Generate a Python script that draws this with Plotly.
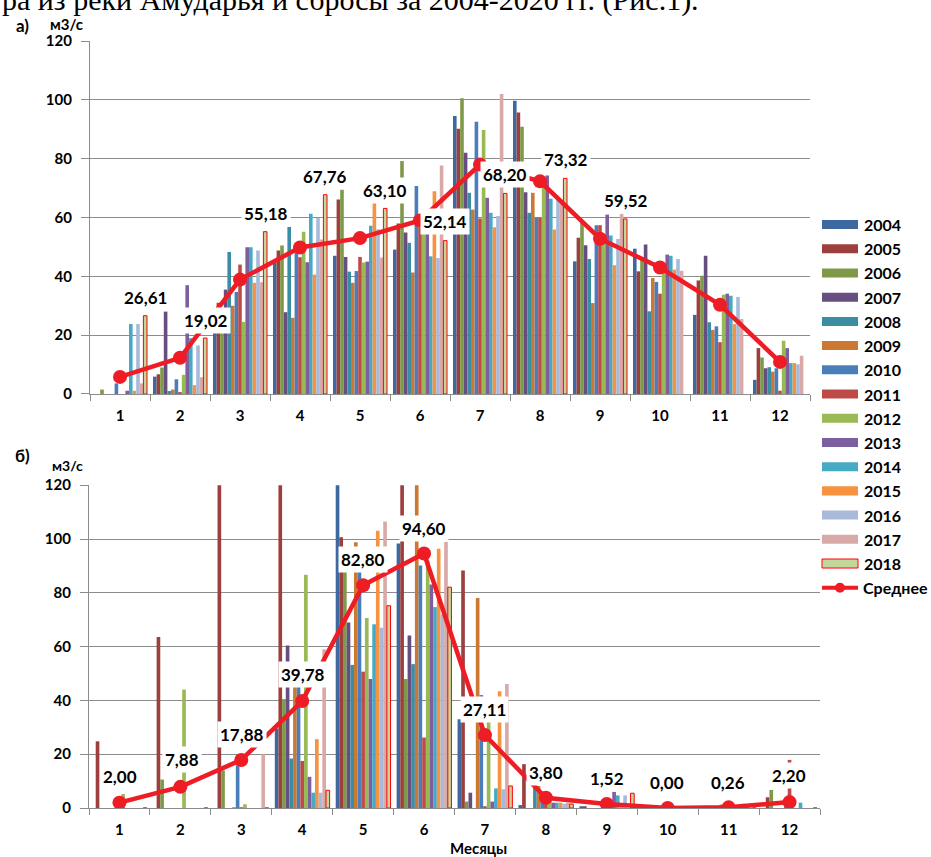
import plotly.graph_objects as go

W, H = 931, 857

MONTHS = ["1", "2", "3", "4", "5", "6", "7", "8", "9", "10", "11", "12"]
YEARS = ["2004", "2005", "2006", "2007", "2008", "2009", "2010", "2011",
         "2012", "2013", "2014", "2015", "2016", "2017", "2018"]

# ---- panel а) (top), m3/s ----
a2004 = [0, 5.9, 28, 44.6, 47, 49.1, 94.5, 99.7, 45.1, 49.4, 26.9, 4.8]
a2005 = [0, 6.7, 31, 48.8, 66.1, 58, 90.2, 95.7, 53.1, 41.7, 38.6, 15.6]
a2006 = [1.5, 9, 27, 50.5, 69.5, 79.2, 100.6, 90.9, 58.2, 46.3, 40.2, 12.4]
a2007 = [0, 28, 35.5, 27.8, 46.6, 54.9, 82, 68.6, 50.6, 50.8, 47, 8.75]
a2008 = [0, 1, 48.3, 56.8, 41.6, 51.4, 68.4, 61.6, 45.9, 28.1, 24.4, 9.1]
a2009 = [0, 1.5, 30, 25.9, 37.8, 41.3, 62.7, 68.4, 30.9, 39.4, 21.8, 7.6]
a2010 = [3.6, 5, 34.7, 48, 41.8, 70.7, 92.6, 59.9, 57.4, 38.1, 23, 8.75]
a2011 = [0, 0.5, 44, 46.5, 46.6, 56.7, 59.7, 59.9, 57.4, 34.1, 17.6, 1.1]
a2012 = [0, 6.5, 24.5, 55.2, 44.7, 56, 89.8, 72, 53.6, 42.3, 33.75, 18.1]
a2013 = [1.1, 37, 49.9, 44.8, 45, 55, 66.7, 74.3, 61, 47.4, 34.1, 15.6]
a2014 = [23.8, 19, 49.9, 61.3, 57.2, 46.8, 61.6, 66.4, 53.9, 47, 33.4, 10.5]
a2015 = [1.1, 3, 37.8, 40.6, 64.9, 68.9, 56.7, 55.9, 43.8, 42.3, 23.75, 10.5]
a2016 = [23.8, 16.5, 48.8, 59.9, 56, 46.2, 60.5, 67, 52.7, 45.9, 33, 10.1]
a2017 = [3.6, 5.7, 38, 52.5, 46.4, 77.7, 102, 65, 61.3, 41.9, 25.5, 13]
a2018 = [26.61, 19.02, 55.18, 67.76, 63.10, 52.14, 68.20, 73.32, 59.52, None, None, None]
a_avg = [5.8, 12.3, 38.9, 49.8, 53.0, 59.0, 78.0, 72.3, 52.8, 43.0, 30.3, 10.9]
a_labels = ["26,61", "19,02", "55,18", "67,76", "63,10", "52,14", "68,20", "73,32", "59,52"]

# ---- panel б) (bottom), m3/s ----
b2004 = [0, 0, 0, 29.6, 151.9, 98.3, 33, 1.1, 0.4, 0, 0, 0]
b2005 = [24.8, 63.6, 216.3, 139.4, 100.7, 225, 88.3, 16.3, 0.5, 0, 0, 4]
b2006 = [0, 10.6, 14, 40.5, 90, 48, 2.4, 0, 0, 0, 0, 6.7]
b2007 = [0, 0, 0, 60.4, 69, 64.1, 5.7, 0, 0, 0, 0, 0]
b2008 = [0, 0, 0, 18.4, 53.2, 53.5, 0, 8.2, 0, 0, 0, 0]
b2009 = [0, 0, 0.3, 45, 98.8, 214.5, 78.1, 8.2, 0, 0, 1.3, 0]
b2010 = [0, 0, 15.9, 45, 89, 90.2, 42, 5, 0, 0, 0, 2.4]
b2011 = [0, 0, 0.3, 17.5, 50.7, 26.2, 0.4, 3, 0, 0, 0, 17.9]
b2012 = [5.2, 44, 1.4, 86.7, 70.6, 92, 38, 4, 0, 0, 1.0, 0]
b2013 = [0, 0, 0, 11.6, 48, 83.1, 2.4, 2, 6, 0, 0, 0]
b2014 = [0, 0, 0, 5.7, 68.3, 74.7, 7.3, 2, 4.7, 0, 0, 2]
b2015 = [0, 0, 0, 25.6, 103.1, 96.4, 43.4, 2, 1, 0, 1.6, 0]
b2016 = [0, 0, 0, 5.7, 67, 72, 7, 1.6, 4.7, 0, 0, 0]
b2017 = [0, 0, 20, 59, 106.5, 98.9, 46.1, 2, 0, 0, 0, 0]
b2018 = [0, 0, 0, 6.6, 75.2, 82.1, 8.2, 1.5, 5.5, 0, 0, 0]
b_avg = [2.00, 7.88, 17.88, 39.78, 82.80, 94.60, 27.11, 3.80, 1.52, 0.00, 0.26, 2.20]
b_labels = ["2,00", "7,88", "17,88", "39,78", "82,80", "94,60", "27,11", "3,80",
            "1,52", "0,00", "0,26", "2,20"]

TOP = [a2004, a2005, a2006, a2007, a2008, a2009, a2010, a2011, a2012, a2013,
       a2014, a2015, a2016, a2017, a2018]
BOT = [b2004, b2005, b2006, b2007, b2008, b2009, b2010, b2011, b2012, b2013,
       b2014, b2015, b2016, b2017, b2018]

COLORS = ["#3E69A0", "#9C3F3D", "#7E9A48", "#664F80", "#3B8DA4", "#CC7832",
          "#4A7EBB", "#BE4B48", "#98B954", "#7D5FA0", "#46AAC5", "#F69240",
          "#A9B9D9", "#D9A9A8", "#C3D69B"]
RED = "#EE1C24"
GRID = "#8C8C8C"
FONT = "Lato, 'Open Sans', sans-serif"

# The photographed page shows the figure slightly squeezed vertically
# (y_shown ~= 0.9765 * y + 11); target positions below are in shown pixels.
SY, OY = 0.9765, 11.0


def px(x):
    return x / W


def py(y):
    return 1 - ((y - OY) / SY) / H


fig = go.Figure()

for series, xa, ya in ((TOP, "x", "y"), (BOT, "x2", "y2")):
    for i, yr in enumerate(YEARS):
        outline = yr == "2018"
        fig.add_trace(go.Bar(
            x=MONTHS, y=series[i], name=yr, xaxis=xa, yaxis=ya,
            marker=dict(color=COLORS[i],
                        line=dict(width=1 if outline else 0, color="#FF0000")),
            showlegend=False, hoverinfo="skip"))

fig.add_trace(go.Scatter(x=MONTHS, y=a_avg, xaxis="x", yaxis="y", mode="lines+markers",
                         line=dict(color=RED, width=4.5),
                         marker=dict(size=14, color=RED), showlegend=False))
fig.add_trace(go.Scatter(x=MONTHS, y=b_avg, xaxis="x2", yaxis="y2", mode="lines+markers",
                         line=dict(color=RED, width=4.5),
                         marker=dict(size=14, color=RED), showlegend=False))

tickfont = dict(family=FONT, size=15, color="black", weight="bold")
xcommon = dict(type="category", showline=True, linecolor=GRID, linewidth=1.3,
               ticks="outside", tickson="boundaries", ticklen=6, tickcolor=GRID,
               tickwidth=1.3, tickfont=tickfont, showgrid=False, range=[-0.5, 11.5],
               ticklabelstandoff=8, fixedrange=True)
ycommon = dict(range=[0, 120], dtick=20, showgrid=True, gridcolor=GRID, gridwidth=1.3,
               showline=True, linecolor=GRID, linewidth=1.3, ticks="outside",
               ticklen=8, tickcolor=GRID, tickwidth=1.3, tickfont=tickfont,
               zeroline=False, ticklabelstandoff=6, fixedrange=True)

fig.update_layout(
    width=W, height=H,
    margin=dict(l=0, r=0, t=0, b=0),
    paper_bgcolor="white", plot_bgcolor="white",
    barmode="group", bargap=0.1, bargroupgap=0,
    xaxis=dict(domain=[px(90), px(810)], anchor="y", **xcommon),
    yaxis=dict(domain=[py(394), py(42)], anchor="x", **ycommon),
    xaxis2=dict(domain=[px(89), px(820)], anchor="y2", **xcommon),
    yaxis2=dict(domain=[py(807), py(485)], anchor="x2", **ycommon),
)


def note(text, x, y, font, xanchor="center", bg=None, pad=1):
    d = dict(text=text, x=px(x), y=py(y), xref="paper", yref="paper",
             xanchor=xanchor, yanchor="middle", showarrow=False, font=font,
             borderpad=pad)
    if bg:
        d["bgcolor"] = bg
    return d


ann = []
lab_font = dict(family=FONT, size=17, color="black", weight="bold")
a_pos = [(145, 298), (206, 321), (265.5, 214), (325, 177), (385, 191),
         (445, 222), (505, 175), (565.5, 160), (625.5, 201)]
for t, (x, y) in zip(a_labels, a_pos):
    ann.append(note(t, x, y, lab_font, bg="white", pad=2))
b_pos = [(120.5, 776), (181.5, 759), (241.5, 734), (302.5, 674), (363, 559),
         (423.5, 528), (484.5, 709), (545.5, 772), (606.5, 778), (667, 782),
         (727.5, 782), (788.5, 775)]
for t, (x, y) in zip(b_labels, b_pos):
    ann.append(note(t, x, y, lab_font, bg="white", pad=2))

# panel letters / units
small_bold = dict(family=FONT, size=15, color="black", weight="bold")
unit_font = dict(family=FONT, size=14, color="black", weight="bold")
letter_font = dict(family=FONT, size=17, color="black", weight="bold")
ann += [
    note("а)", 14, 26, letter_font, xanchor="left"),
    note("м3/с", 48, 25, small_bold, xanchor="left"),
    note("б)", 13, 455, letter_font, xanchor="left"),
    note("м3/с", 50, 465, unit_font, xanchor="left"),
    note("Месяцы", 479, 847, small_bold),
    note("ра из реки Амударья и сбросы за 2004-2020 гг. (Рис.1).", 0, 1,
         dict(family="Liberation Serif", size=30, color="black"), xanchor="left"),
]

# legend (drawn manually to match the wide Excel swatches)
shapes = []
leg_font = dict(family=FONT, size=16, color="black", weight="bold")
for i, yr in enumerate(YEARS):
    yc = 225 + i * 24.15
    shapes.append(dict(type="rect", xref="paper", yref="paper",
                       x0=px(822), x1=px(858), y0=py(yc + 4.5), y1=py(yc - 4.5),
                       fillcolor=COLORS[i],
                       line=dict(width=1 if yr == "2018" else 0, color="#FF0000")))
    ann.append(note(yr, 862, yc, leg_font, xanchor="left"))
yc = 225 + 15 * 24.15
shapes.append(dict(type="line", xref="paper", yref="paper", x0=px(822), x1=px(858),
                   y0=py(yc), y1=py(yc), line=dict(color=RED, width=4)))
shapes.append(dict(type="circle", xref="paper", yref="paper", x0=px(835), x1=px(845),
                   y0=py(yc + 5), y1=py(yc - 5), fillcolor=RED, line=dict(width=0)))
ann.append(note("Среднее", 861, yc, leg_font, xanchor="left"))

fig.update_layout(annotations=ann, shapes=shapes)

PAGE_FIX = (
    "document.documentElement.style.margin='0';"
    "document.documentElement.style.overflow='hidden';"
    "document.body.style.margin='0';"
    "document.body.style.overflow='hidden';"
    "var g=document.getElementsByClassName('plotly-graph-div')[0];"
    "g.style.position='fixed';g.style.left='0px';g.style.top='0px';"
)
fig.write_html("out.html", config={"displayModeBar": False}, post_script=PAGE_FIX)
